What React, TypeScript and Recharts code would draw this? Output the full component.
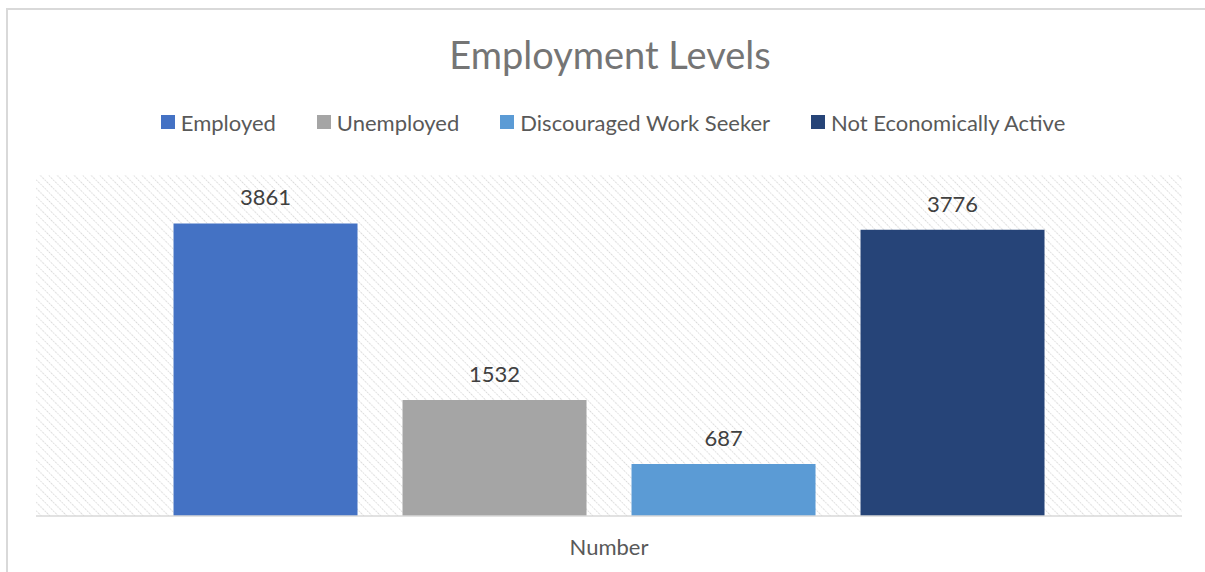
import React from "react";
import { BarChart, Bar, XAxis, YAxis, Legend, LabelList } from "recharts";

const categories = ["Number"];
const seriesNames = ["Employed", "Unemployed", "Discouraged Work Seeker", "Not Economically Active"];
const seriesKeys = ["employed", "unemployed", "discouraged", "notActive"];
const seriesValues = [3861, 1532, 687, 3776];
const seriesColors = ["#4472C4", "#A5A5A5", "#5B9BD5", "#264478"];
const title = "Employment Levels";

const data = categories.map((c) => {
  const row: Record<string, string | number> = { name: c };
  seriesKeys.forEach((k, i) => {
    row[k] = seriesValues[i];
  });
  return row;
});

const FONT = "Lato, 'Open Sans', sans-serif";

const renderLegend = () => {
  return (
    <div
      style={{
        display: "flex",
        justifyContent: "center",
        alignItems: "center",
        height: 30,
        fontFamily: FONT,
        fontSize: 22,
        color: "#595959",
      }}
    >
      {seriesNames.map((name, i) => (
        <div
          key={name}
          style={{ display: "flex", alignItems: "center", marginRight: i < seriesNames.length - 1 ? 41 : 0 }}
        >
          <div style={{ width: 14, height: 14, background: seriesColors[i], marginRight: 6 }} />
          <span>{name}</span>
        </div>
      ))}
    </div>
  );
};

export default function App() {
  return (
    <div
      style={{
        position: "fixed",
        left: 0,
        top: 0,
        width: 1205,
        height: 572,
        overflow: "hidden",
        background: "#fff",
      }}
    >
      <div
        style={{
          position: "absolute",
          left: 6,
          top: 8,
          width: 1260,
          height: 640,
          border: "2px solid #d9d9d9",
          boxSizing: "border-box",
        }}
      />
      <div
        style={{
          position: "absolute",
          left: 0,
          top: 31,
          width: 1220,
          textAlign: "center",
          fontFamily: FONT,
          fontSize: 38,
          color: "#757575",
          lineHeight: "46px",
        }}
      >
        {title}
      </div>
      <div style={{ position: "absolute", left: 0, top: 0 }}>
        <BarChart
          width={1205}
          height={572}
          data={data}
          margin={{ top: 145, right: 23, left: 36, bottom: 16 }}
          barCategoryGap="12%"
          barGap={45}
        >
          <defs>
            <pattern id="hatch" width="6" height="6" patternUnits="userSpaceOnUse" patternTransform="rotate(-45)">
              <line x1="0" y1="0" x2="0" y2="6" stroke="#d0d0d0" strokeWidth="1.6" strokeDasharray="1.5 1.2" />
            </pattern>
          </defs>
          <rect x={36} y={175} width={1146} height={341} fill="url(#hatch)" />
          <Legend
            verticalAlign="top"
            align="center"
            content={renderLegend}
            wrapperStyle={{ top: 107, left: 0, width: 1226 }}
          />
          <XAxis
            dataKey="name"
            axisLine={{ stroke: "#d9d9d9", strokeWidth: 1.5 }}
            tickLine={false}
            tickSize={6}
            tickMargin={17}
            height={40}
            tick={{ fill: "#595959", fontSize: 22, fontFamily: FONT }}
          />
          <YAxis hide domain={[0, 4500]} />
          {seriesKeys.map((k, i) => (
            <Bar key={k} dataKey={k} name={seriesNames[i]} fill={seriesColors[i]} isAnimationActive={false}>
              <LabelList
                dataKey={k}
                position="top"
                offset={18}
                fill="#404040"
                fontSize={22}
                fontFamily={FONT}
              />
            </Bar>
          ))}
        </BarChart>
      </div>
    </div>
  );
}
